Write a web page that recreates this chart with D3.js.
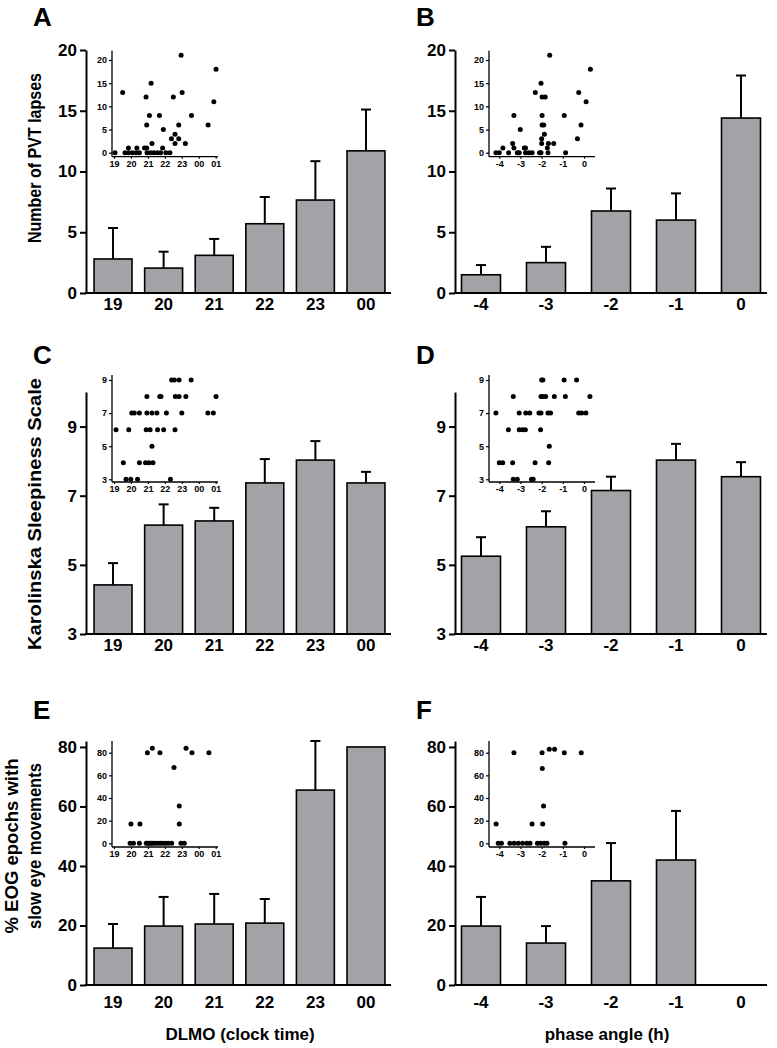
<!DOCTYPE html>
<html><head><meta charset="utf-8">
<script src="https://cdn.jsdelivr.net/npm/d3@7"></script>
<style>
body{margin:0;background:#fff}
svg{display:block}
text{font-family:"Liberation Sans",Arial,Helvetica,sans-serif;font-weight:bold;fill:#000}
</style>
</head><body>
<svg id="c" width="777" height="1048"></svg>
<script>
// ---------- DATA ----------
const clockCats = ["19","20","21","22","23","00"];
const phaseCats = ["-4","-3","-2","-1","0"];

const pvtClockMean = [2.8, 2.05, 3.1, 5.7, 7.65, 11.7];
const pvtClockErr  = [5.35, 3.4, 4.45, 7.9, 10.85, 15.1];
const pvtPhaseMean = [1.5, 2.5, 6.75, 6.0, 14.4];
const pvtPhaseErr  = [2.3, 3.8, 8.6, 8.2, 17.9];

const kssClockMean = [4.42, 6.15, 6.27, 7.37, 8.03, 7.37];
const kssClockErr  = [5.05, 6.75, 6.65, 8.06, 8.58, 7.69];
const kssPhaseMean = [5.25, 6.1, 7.15, 8.03, 7.55];
const kssPhaseErr  = [5.8, 6.55, 7.55, 8.5, 7.97];

const eogClockMean = [12.4, 19.8, 20.5, 20.8, 65.5, 80];
const eogClockErr  = [20.5, 29.6, 30.6, 28.9, 82, null];
const eogPhaseMean = [19.8, 14.1, 35, 42, 0];
const eogPhaseErr  = [29.6, 19.8, 47.7, 58.5, null];

const pvtTicks = [0,5,10,15,20];
const kssTicks = [3,5,7,9];
const eogTicks = [0,20,40,60,80];

// insets
const insetClockTicks  = [19,20,21,22,23,24,25];
const insetClockLabels = ["19","20","21","22","23","00","01"];
const insetPhaseTicks  = [-4,-3,-2,-1,0];
const insetPhaseLabels = ["-4","-3","-2","-1","0"];
const insetPvtTicks = [0,5,10,15,20];
const insetKssTicks = [3,5,7,9];
const insetEogTicks = [0,20,40,60,80];

const pvtClockX = [19.06,19.51,19.65,19.85,19.85,20.08,20.35,20.3,20.5,20.8,20.93,20.89,20.93,21.09,21.19,21.24,20.95,21.15,21.35,21.55,21.75,21.68,21.91,21.87,22.06,22.3,22.5,22.39,22.6,22.6,22.82,22.82,22.96,23.02,23.21,23.57,24.55,24.89,25.02];
const pvtClockY = [0,13,0,1,0,0,1,0,0,1,1,12,6,8,15,2,0,0,0,0,0,8,5,1,0,0,12,3,4,2,6,3,21,13,2,8,6,11,18];

const pvtPhaseX = [-4.16,-4.0,-3.83,-3.56,-3.37,-3.31,-3.31,-3.15,-3.06,-3.01,-2.82,-2.76,-2.76,-2.6,-2.45,-2.3,-2.1,-2.03,-2.03,-1.98,-1.83,-1.98,-1.98,-1.9,-2.0,-2.0,-1.87,-1.73,-1.7,-1.68,-1.43,-1.62,-0.93,-0.87,-0.31,-0.25,-0.14,0.1,0.3];
const pvtPhaseY = [0,0,1,0,2,1,8,0,0,5,1,1,0,0,0,13,0,0,15,12,12,8,6,6,3,2,4,1,0,2,2,21,8,0,3,13,6,11,18];

const kssClockX = [19.12,19.55,19.71,19.99,19.87,20.05,20.2,20.5,20.39,20.5,20.94,20.94,21.24,21.53,20.9,21.13,20.86,21.06,21.3,21.24,21.7,21.77,21.57,21.93,22.09,22.33,22.4,22.56,22.84,23.55,22.62,22.84,23.24,22.6,23.0,24.54,24.86,25.02];
const kssClockY = [6,4,3,3,6,7,7,7,3,4,8,7,7,7,6,6,4,4,4,5,8,8,6,6,7,3,9,9,9,9,8,8,8,6,7,7,7,8];

const kssPhaseX = [-4.16,-4.0,-3.84,-3.57,-3.37,-3.34,-3.34,-3.15,-3.06,-3.06,-2.9,-2.77,-2.75,-2.56,-2.48,-2.4,-2.31,-2.13,-2.03,-2.05,-2.0,-1.94,-2.03,-1.94,-1.81,-1.7,-1.58,-1.64,-1.67,-1.4,-0.94,-0.88,-0.35,-0.25,-0.11,0.09,0.28];
const kssPhaseY = [7,4,4,6,4,8,3,3,7,6,6,6,7,7,3,3,4,7,7,6,9,9,8,8,8,7,7,5,4,8,9,8,9,7,7,7,8];

const eogClockX = [20.0,20.53,20.97,21.26,21.71,22.54,22.85,22.85,23.25,23.6,24.6,19.95,20.15,20.5,20.9,21.0,21.1,21.2,21.3,21.45,21.6,21.75,21.9,22.05,22.2,22.4,22.95,23.15];
const eogClockY = [17,17,80,84,80,67,33,17,84,80,80,0,0,0,0,0,0,0,0,0,0,0,0,0,0,0,0,0];

const eogPhaseX = [-3.31,-1.98,-1.64,-1.39,-0.93,-0.13,-1.97,-1.91,-4.15,-2.45,-1.95,-4.05,-3.9,-3.5,-3.3,-3.1,-2.9,-2.7,-2.55,-2.2,-2.05,-1.88,-1.75,-0.9];
const eogPhaseY = [80,80,83,83,80,80,66,33,17,17,17,0,0,0,0,0,0,0,0,0,0,0,0,0];

// ---------- DRAWING ----------
const svg = d3.select("#c");
const BAR_FILL = "#a3a3a7";
const fmt = d3.format("d");

function barPanel(o){
  const g = svg.append("g");
  const xs = d3.scaleBand().domain(o.cats).range(o.xRange).paddingInner(o.pi).paddingOuter(o.po);
  const ys = d3.scaleLinear().domain(o.yDomain).range(o.yRange);
  const base = o.yDomain[0];
  o.cats.forEach((c,i)=>{
    const v = o.mean[i];
    if (v > base) {
      g.append("rect").attr("x", xs(c)).attr("y", ys(v))
        .attr("width", xs.bandwidth()).attr("height", ys(base)-ys(v))
        .attr("fill", BAR_FILL).attr("stroke","#000").attr("stroke-width",1.6);
    }
    const e = o.err[i];
    if (e != null && e > v) {
      const cx = xs(c) + xs.bandwidth()/2;
      g.append("line").attr("x1",cx).attr("x2",cx).attr("y1",ys(v)).attr("y2",ys(e))
        .attr("stroke","#000").attr("stroke-width",2);
      g.append("line").attr("x1",cx-5).attr("x2",cx+5).attr("y1",ys(e)).attr("y2",ys(e))
        .attr("stroke","#000").attr("stroke-width",2);
    }
  });
  const ya = g.append("g").attr("transform",`translate(${o.axisX},0)`)
    .call(d3.axisLeft(ys).tickValues(o.yTicks).tickFormat(fmt).tickSize(6).tickSizeOuter(0).tickPadding(3));
  ya.select(".domain").attr("stroke-width",2);
  ya.selectAll(".tick line").attr("stroke-width",2);
  ya.selectAll("text").style("font-size","17px");
  const xa = g.append("g").attr("transform",`translate(0,${ys(base)})`)
    .call(d3.axisBottom(xs).tickSize(0).tickPadding(o.xPad));
  xa.select(".domain").remove();
  xa.selectAll("text").style("font-size","17px");
  g.append("line").attr("x1",o.axisX-1).attr("x2",o.xEnd).attr("y1",ys(base)).attr("y2",ys(base))
    .attr("stroke","#000").attr("stroke-width",2);
}

function inset(o){
  const g = svg.append("g");
  const xs = d3.scaleLinear().domain(o.xDomain).range(o.xRange);
  const ys = d3.scaleLinear().domain(o.yDomain).range(o.yRange);
  g.append("line").attr("x1",o.axisX).attr("x2",o.axisX).attr("y1",o.axisTop).attr("y2",o.axisBottom)
    .attr("stroke","#000").attr("stroke-width",1.3);
  g.append("line").attr("x1",o.axisX).attr("x2",o.axisRight).attr("y1",o.axisBottom).attr("y2",o.axisBottom)
    .attr("stroke","#000").attr("stroke-width",1.3);
  const ya = g.append("g").attr("transform",`translate(${o.axisX},0)`)
    .call(d3.axisLeft(ys).tickValues(o.yTicks).tickFormat(fmt).tickSize(3).tickSizeOuter(0).tickPadding(2));
  ya.select(".domain").remove();
  ya.selectAll(".tick line").attr("stroke-width",1.2);
  ya.selectAll("text").style("font-size","9px");
  const xa = g.append("g").attr("transform",`translate(0,${o.axisBottom})`)
    .call(d3.axisBottom(xs).tickValues(o.xTicks).tickFormat((d,i)=>o.xLabels[i]).tickSize(2).tickSizeOuter(0).tickPadding(2));
  xa.select(".domain").remove();
  xa.selectAll(".tick line").attr("stroke-width",1.2);
  xa.selectAll("text").style("font-size","9px");
  g.selectAll("circle.pt").data(o.px).enter().append("circle")
    .attr("cx",(d)=>xs(d)).attr("cy",(d,i)=>ys(o.py[i])).attr("r",2.5).attr("fill","#000");
}

const leftX = 86, rightX = 455;
barPanel({cats:clockCats, mean:pvtClockMean, err:pvtClockErr, xRange:[89,390], pi:0.25, po:0.1,
  yDomain:[0,20], yRange:[293,50], yTicks:pvtTicks, axisX:leftX, xEnd:391, xPad:5});
barPanel({cats:phaseCats, mean:pvtPhaseMean, err:pvtPhaseErr, xRange:[455,767], pi:0.4, po:0.1,
  yDomain:[0,20], yRange:[293,50], yTicks:pvtTicks, axisX:rightX, xEnd:767, xPad:5});
barPanel({cats:clockCats, mean:kssClockMean, err:kssClockErr, xRange:[89,390], pi:0.25, po:0.1,
  yDomain:[3,10], yRange:[634,392], yTicks:kssTicks, axisX:leftX, xEnd:391, xPad:5});
barPanel({cats:phaseCats, mean:kssPhaseMean, err:kssPhaseErr, xRange:[455,767], pi:0.4, po:0.1,
  yDomain:[3,10], yRange:[634,392], yTicks:kssTicks, axisX:rightX, xEnd:767, xPad:5});
barPanel({cats:clockCats, mean:eogClockMean, err:eogClockErr, xRange:[89,390], pi:0.25, po:0.1,
  yDomain:[0,82], yRange:[985,741], yTicks:eogTicks, axisX:leftX, xEnd:391, xPad:11});
barPanel({cats:phaseCats, mean:eogPhaseMean, err:eogPhaseErr, xRange:[455,767], pi:0.4, po:0.1,
  yDomain:[0,82], yRange:[985,741], yTicks:eogTicks, axisX:rightX, xEnd:767, xPad:11});

inset({xDomain:[19,25], xRange:[114,215.7], xTicks:insetClockTicks, xLabels:insetClockLabels,
  yDomain:[0,20], yRange:[152.7,60], yTicks:insetPvtTicks, axisX:112, axisTop:50.7, axisBottom:156.7, axisRight:218,
  px:pvtClockX, py:pvtClockY});
inset({xDomain:[-4,0], xRange:[499.3,584], xTicks:insetPhaseTicks, xLabels:insetPhaseLabels,
  yDomain:[0,20], yRange:[152.7,60], yTicks:insetPvtTicks, axisX:489, axisTop:50.7, axisBottom:156.7, axisRight:595,
  px:pvtPhaseX, py:pvtPhaseY});
inset({xDomain:[19,25], xRange:[114,215.7], xTicks:insetClockTicks, xLabels:insetClockLabels,
  yDomain:[3,9], yRange:[479.3,380], yTicks:insetKssTicks, axisX:112, axisTop:375, axisBottom:482, axisRight:218,
  px:kssClockX, py:kssClockY});
inset({xDomain:[-4,0], xRange:[499.3,584], xTicks:insetPhaseTicks, xLabels:insetPhaseLabels,
  yDomain:[3,9], yRange:[479.3,380], yTicks:insetKssTicks, axisX:489, axisTop:375, axisBottom:482, axisRight:595,
  px:kssPhaseX, py:kssPhaseY});
inset({xDomain:[19,25], xRange:[114,215.7], xTicks:insetClockTicks, xLabels:insetClockLabels,
  yDomain:[0,80], yRange:[843.3,752.7], yTicks:insetEogTicks, axisX:112, axisTop:741, axisBottom:847, axisRight:218,
  px:eogClockX, py:eogClockY});
inset({xDomain:[-4,0], xRange:[499.3,584], xTicks:insetPhaseTicks, xLabels:insetPhaseLabels,
  yDomain:[0,80], yRange:[843.3,752.7], yTicks:insetEogTicks, axisX:489, axisTop:741, axisBottom:847, axisRight:595,
  px:eogPhaseX, py:eogPhaseY});

[["A",33,26],["B",416,26],["C",33,364],["D",416,364],["E",33,719],["F",416,719]].forEach(([t,x,y])=>{
  svg.append("text").attr("x",x).attr("y",y).style("font-size","26px").text(t);
});

function vtext(t,x,y,size,len){
  const el = svg.append("text").attr("transform",`translate(${x},${y}) rotate(-90)`)
    .attr("text-anchor","middle").style("font-size",size+"px").text(t);
  if(len) el.attr("textLength",len).attr("lengthAdjust","spacingAndGlyphs");
}
vtext("Number of PVT lapses", 41, 158, 19, 170);
vtext("Karolinska Sleepiness Scale", 41, 514, 19, 272);
vtext("% EOG epochs with", 18, 846, 19, 175);
vtext("slow eye movements", 41, 846, 19, 166);

svg.append("text").attr("x",240).attr("y",1040).attr("text-anchor","middle").style("font-size","17px").text("DLMO (clock time)");
svg.append("text").attr("x",607).attr("y",1040).attr("text-anchor","middle").style("font-size","17px").text("phase angle (h)");
</script>
</body></html>
